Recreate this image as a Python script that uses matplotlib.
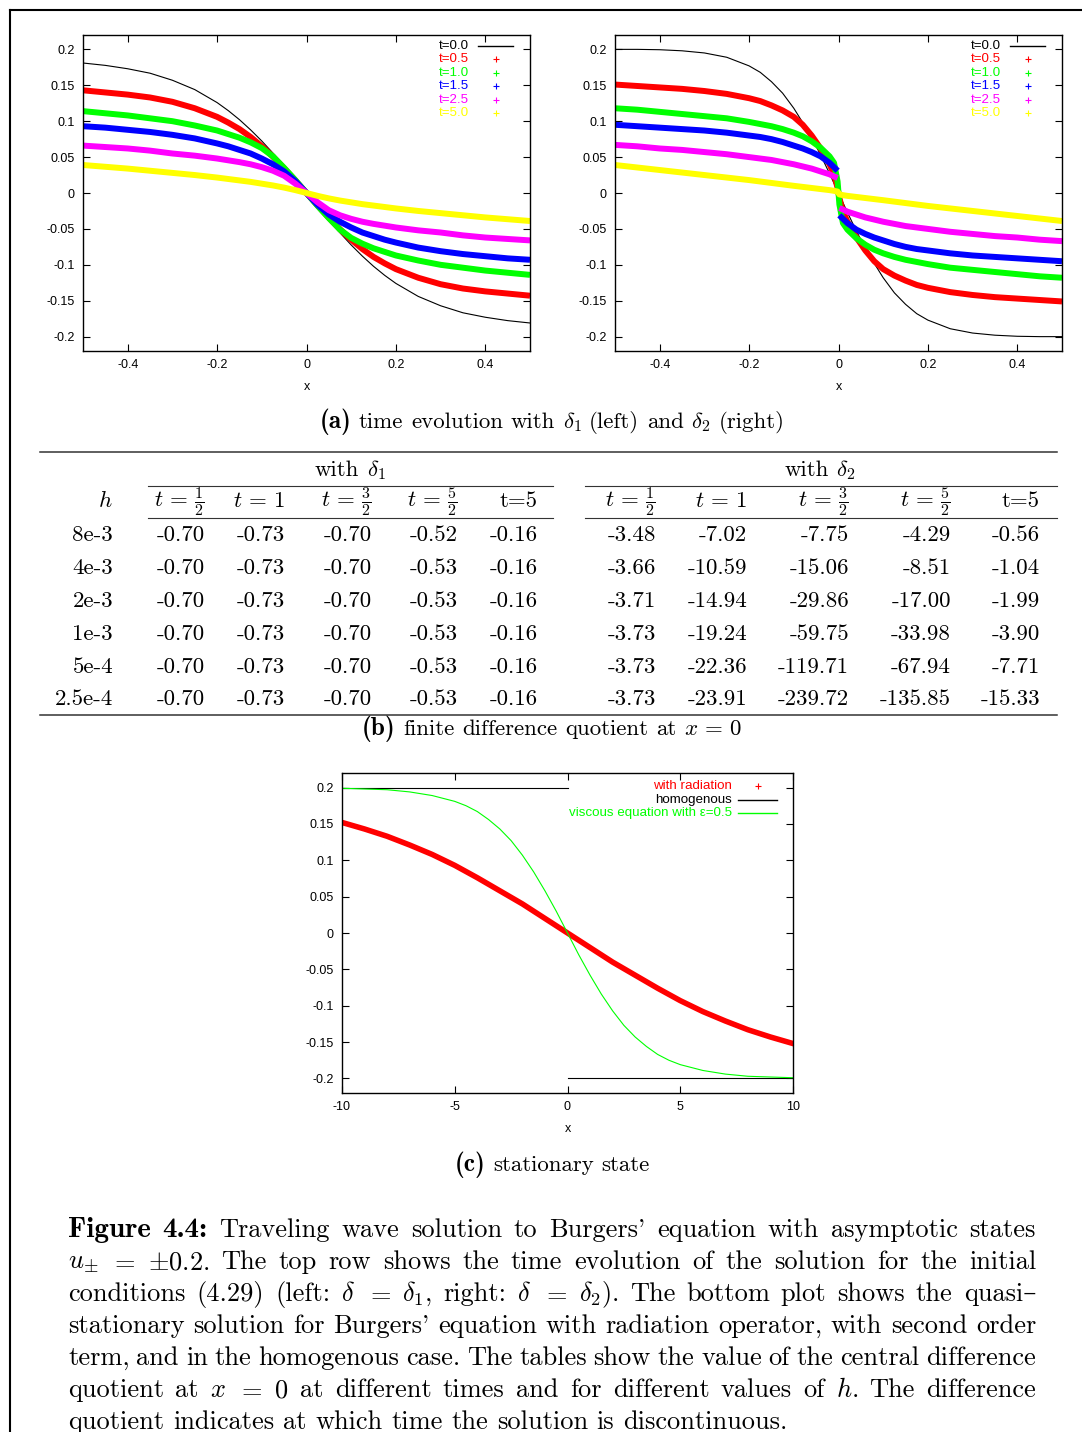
import numpy as np
import matplotlib
matplotlib.use("Agg")
import matplotlib.pyplot as plt
from matplotlib.lines import Line2D

W, H, DPI = 1082, 1432, 100

plt.rcParams['mathtext.fontset'] = 'cm'
plt.rcParams['axes.unicode_minus'] = False

SANS = 'Liberation Sans'
ROMAN = ['cmr10', 'DejaVu Serif']
BOLD = ['cmb10', 'DejaVu Serif']

# --- time evolution, initial condition delta_1 ---
x1 = [-0.5, -0.45, -0.4, -0.35, -0.3, -0.25, -0.2, -0.175, -0.15, -0.125, -0.1, -0.075, -0.05, -0.025, 0.0,
      0.025, 0.05, 0.075, 0.1, 0.125, 0.15, 0.175, 0.2, 0.25, 0.3, 0.35, 0.4, 0.45, 0.5]
u1_t00 = [0.181, 0.1777, 0.173, 0.1668, 0.157, 0.144, 0.1259, 0.1147, 0.1021, 0.0879, 0.0724, 0.0555, 0.0377, 0.019, 0.0,
          -0.019, -0.0377, -0.0555, -0.0724, -0.0879, -0.1021, -0.1147, -0.1259, -0.144, -0.157, -0.1668, -0.173, -0.1777, -0.181]
u1_t05 = [0.143, 0.140, 0.137, 0.133, 0.127, 0.118, 0.106, 0.098, 0.089, 0.078, 0.065, 0.0505, 0.0345, 0.0175, 0.0,
          -0.0175, -0.0345, -0.0505, -0.065, -0.078, -0.089, -0.098, -0.106, -0.118, -0.127, -0.133, -0.137, -0.140, -0.143]
u1_t10 = [0.114, 0.111, 0.108, 0.104, 0.100, 0.094, 0.087, 0.082, 0.077, 0.0705, 0.0625, 0.051, 0.035, 0.018, 0.0,
          -0.018, -0.035, -0.051, -0.0625, -0.0705, -0.077, -0.082, -0.087, -0.094, -0.100, -0.104, -0.108, -0.111, -0.114]
u1_t15 = [0.093, 0.091, 0.088, 0.085, 0.081, 0.076, 0.069, 0.065, 0.060, 0.055, 0.048, 0.040, 0.030, 0.0165, 0.0,
          -0.0165, -0.030, -0.040, -0.048, -0.055, -0.060, -0.065, -0.069, -0.076, -0.081, -0.085, -0.088, -0.091, -0.093]
u1_t25 = [0.066, 0.064, 0.062, 0.059, 0.055, 0.052, 0.048, 0.0455, 0.043, 0.040, 0.036, 0.031, 0.024, 0.013, 0.0,
          -0.013, -0.024, -0.031, -0.036, -0.040, -0.043, -0.0455, -0.048, -0.052, -0.055, -0.059, -0.062, -0.064, -0.066]
u1_t50 = [0.039, 0.0365, 0.034, 0.031, 0.028, 0.025, 0.0215, 0.0195, 0.0175, 0.0155, 0.013, 0.0105, 0.0075, 0.004, 0.0,
          -0.004, -0.0075, -0.0105, -0.013, -0.0155, -0.0175, -0.0195, -0.0215, -0.025, -0.028, -0.031, -0.034, -0.0365, -0.039]

# --- time evolution, initial condition delta_2 ---
x2 = [-0.5, -0.45, -0.4, -0.35, -0.3, -0.25, -0.2, -0.175, -0.15, -0.125, -0.1, -0.08, -0.06, -0.04, -0.02, -0.01, -0.002, 0.0,
      0.002, 0.01, 0.02, 0.04, 0.06, 0.08, 0.1, 0.125, 0.15, 0.175, 0.2, 0.25, 0.3, 0.35, 0.4, 0.45, 0.5]
u2_t00 = [0.200, 0.200, 0.1995, 0.198, 0.195, 0.189, 0.177, 0.168, 0.155, 0.139, 0.118, 0.098, 0.077, 0.053, 0.027, 0.0135, 0.003, 0.0,
          -0.003, -0.0135, -0.027, -0.053, -0.077, -0.098, -0.118, -0.139, -0.155, -0.168, -0.177, -0.189, -0.195, -0.198, -0.1995, -0.200, -0.200]
u2_t05 = [0.151, 0.149, 0.147, 0.145, 0.142, 0.138, 0.132, 0.128, 0.122, 0.115, 0.106, 0.095, 0.080, 0.062, 0.040, 0.026, 0.007, 0.0,
          -0.007, -0.026, -0.040, -0.062, -0.080, -0.095, -0.106, -0.115, -0.122, -0.128, -0.132, -0.138, -0.142, -0.145, -0.147, -0.149, -0.151]
u2_t10 = [0.118, 0.116, 0.113, 0.110, 0.107, 0.104, 0.099, 0.096, 0.093, 0.089, 0.084, 0.079, 0.072, 0.063, 0.051, 0.042, 0.016, 0.0,
          -0.016, -0.042, -0.051, -0.063, -0.072, -0.079, -0.084, -0.089, -0.093, -0.096, -0.099, -0.104, -0.107, -0.110, -0.113, -0.116, -0.118]
u2_t15 = [0.095, 0.093, 0.091, 0.089, 0.087, 0.084, 0.080, 0.078, 0.075, 0.071, 0.066, 0.062, 0.057, 0.051, 0.042, 0.036, 0.031, np.nan,
          -0.031, -0.036, -0.042, -0.051, -0.057, -0.062, -0.066, -0.071, -0.075, -0.078, -0.080, -0.084, -0.087, -0.089, -0.091, -0.093, -0.095]
u2_t25 = [0.067, 0.065, 0.062, 0.060, 0.057, 0.054, 0.050, 0.048, 0.046, 0.043, 0.040, 0.037, 0.034, 0.030, 0.026, 0.023, 0.021, np.nan,
          -0.021, -0.023, -0.026, -0.030, -0.034, -0.037, -0.040, -0.043, -0.046, -0.048, -0.050, -0.054, -0.057, -0.060, -0.062, -0.065, -0.067]
u2_t50 = [0.039, 0.0355, 0.032, 0.0285, 0.025, 0.0215, 0.018, 0.016, 0.014, 0.012, 0.010, 0.0085, 0.007, 0.0055, 0.004, 0.003, 0.002, 0.0,
          -0.002, -0.003, -0.004, -0.0055, -0.007, -0.0085, -0.010, -0.012, -0.014, -0.016, -0.018, -0.0215, -0.025, -0.0285, -0.032, -0.0355, -0.039]

t_labels = ['t=0.0', 't=0.5', 't=1.0', 't=1.5', 't=2.5', 't=5.0']
t_colors = ['black', '#ff0000', '#00ff00', '#0000ff', '#ff00ff', '#ffff00']

# --- stationary state ---
xs = [-10, -9, -8, -7, -6, -5, -4, -3, -2, -1, 0, 1, 2, 3, 4, 5, 6, 7, 8, 9, 10]
u_rad = [0.152, 0.143, 0.133, 0.121, 0.108, 0.093, 0.076, 0.058, 0.040, 0.020, 0.0,
         -0.020, -0.040, -0.058, -0.076, -0.093, -0.108, -0.121, -0.133, -0.143, -0.152]
xv = [-10, -9, -8, -7, -6, -5, -4.5, -4, -3.5, -3, -2.5, -2, -1.5, -1, -0.5, 0,
      0.5, 1, 1.5, 2, 2.5, 3, 3.5, 4, 4.5, 5, 6, 7, 8, 9, 10]
u_visc = [0.199, 0.198, 0.197, 0.194, 0.189, 0.181, 0.175, 0.167, 0.156, 0.143, 0.127, 0.107, 0.084, 0.058, 0.030, 0.0,
          -0.030, -0.058, -0.084, -0.107, -0.127, -0.143, -0.156, -0.167, -0.175, -0.181, -0.189, -0.194, -0.197, -0.198, -0.199]
x_hom_l, u_hom_l = [-10, 0], [0.2, 0.2]
x_hom_r, u_hom_r = [0, 10], [-0.2, -0.2]

# --- difference quotient table ---
h_vals = ['8e-3', '4e-3', '2e-3', '1e-3', '5e-4', '2.5e-4']
t_heads = [r'$t\,=\,\frac{1}{2}$', r'$t\,=\,1$', r'$t\,=\,\frac{3}{2}$', r'$t\,=\,\frac{5}{2}$', 't=5']
dq_delta1 = [[-0.70, -0.73, -0.70, -0.52, -0.16],
             [-0.70, -0.73, -0.70, -0.53, -0.16],
             [-0.70, -0.73, -0.70, -0.53, -0.16],
             [-0.70, -0.73, -0.70, -0.53, -0.16],
             [-0.70, -0.73, -0.70, -0.53, -0.16],
             [-0.70, -0.73, -0.70, -0.53, -0.16]]
dq_delta2 = [[-3.48, -7.02, -7.75, -4.29, -0.56],
             [-3.66, -10.59, -15.06, -8.51, -1.04],
             [-3.71, -14.94, -29.86, -17.00, -1.99],
             [-3.73, -19.24, -59.75, -33.98, -3.90],
             [-3.73, -22.36, -119.71, -67.94, -7.71],
             [-3.73, -23.91, -239.72, -135.85, -15.33]]

y_ticks = [-0.2, -0.15, -0.1, -0.05, 0, 0.05, 0.1, 0.15, 0.2]
y_ticklabels = ['-0.2', '-0.15', '-0.1', '-0.05', '0', '0.05', '0.1', '0.15', '0.2']

fig = plt.figure(figsize=(W / DPI, H / DPI), dpi=DPI)
renderer = fig.canvas.get_renderer()


def fy(py):
    return 1 - py / H


def add_ax(l, t, r, b):
    return fig.add_axes([l / W, 1 - b / H, (r - l) / W, (b - t) / H])


def gnuplot_style(ax, xlim, xticks, xlabels):
    ax.set_xlim(xlim)
    ax.set_ylim(-0.22, 0.22)
    ax.set_xticks(xticks, xlabels)
    ax.set_yticks(y_ticks, y_ticklabels)
    ax.tick_params(direction='in', top=True, right=True, length=5, width=0.8,
                   labelsize=9, pad=6)
    for lab in ax.get_xticklabels() + ax.get_yticklabels():
        lab.set_family(SANS)
    ax.set_xlabel('x', fontsize=9, family=SANS, labelpad=7)
    for s in ax.spines.values():
        s.set_linewidth(1.0)


def key(rows, x_text, x0, x1, y0, dy):
    # gnuplot style key: right aligned coloured text, sample to the right
    for i, (label, color, kind) in enumerate(rows):
        yy = fy(y0 + i * dy)
        fig.text(x_text / W, yy, label, color=color, ha='right', va='center',
                 fontsize=9.6, family=SANS)
        if kind == 'line':
            fig.add_artist(Line2D([x0 / W, x1 / W], [yy, yy], color=color, lw=1.0))
        else:
            fig.add_artist(Line2D([(x0 + x1) / 2 / W], [yy], color=color, marker='+',
                                  ms=4, mew=0.8, ls='none'))


t_key = [(l, c, 'line' if i == 0 else 'plus') for i, (l, c) in enumerate(zip(t_labels, t_colors))]

# top left
ax1 = add_ax(83, 35, 530, 351)
ax1.plot(x1, u1_t00, color='black', lw=0.8)
for u, c in zip([u1_t05, u1_t10, u1_t15, u1_t25, u1_t50], t_colors[1:]):
    ax1.plot(x1, u, color=c, lw=4.3, solid_capstyle='butt', solid_joinstyle='round')
gnuplot_style(ax1, (-0.5, 0.5), [-0.4, -0.2, 0, 0.2, 0.4], ['-0.4', '-0.2', '0', '0.2', '0.4'])
key(t_key, 469, 478, 513, 46, 13.4)

# top right
ax2 = add_ax(615, 35, 1062, 351)
ax2.plot(x2, u2_t00, color='black', lw=0.8)
for u, c in zip([u2_t05, u2_t10, u2_t15, u2_t25, u2_t50], t_colors[1:]):
    ax2.plot(x2, u, color=c, lw=4.3, solid_capstyle='butt', solid_joinstyle='round')
gnuplot_style(ax2, (-0.5, 0.5), [-0.4, -0.2, 0, 0.2, 0.4], ['-0.4', '-0.2', '0', '0.2', '0.4'])
key(t_key, 1001, 1010, 1045, 46, 13.4)

# bottom: stationary state
ax3 = add_ax(342, 773, 793, 1093)
ax3.plot(xs, u_rad, color='#ff0000', lw=4.0, solid_joinstyle='round')
ax3.plot(x_hom_l, u_hom_l, color='black', lw=0.8)
ax3.plot(x_hom_r, u_hom_r, color='black', lw=0.8)
ax3.plot(xv, u_visc, color='#00ff00', lw=0.8)
gnuplot_style(ax3, (-10, 10), [-10, -5, 0, 5, 10], ['-10', '-5', '0', '5', '10'])
key([('with radiation', '#ff0000', 'plus'),
     ('homogenous', 'black', 'line'),
     ('viscous equation with \u03b5=0.5', '#00ff00', 'line')],
    732, 738, 777, 786, 13.5)


# ---- text helpers (serif, LaTeX look) ----
def run(words, y, size, x0=None, x1=None, center=None, right=None, justify=False):
    # bold words are set a little larger to mimic the extended bold face
    arts = [fig.text(0, fy(y), w, family=f, fontsize=size * (1.1 if f is BOLD else 1.0),
                     va='baseline', ha='left')
            for w, f in words]
    widths = [a.get_window_extent(renderer).width for a in arts]
    space = size * DPI / 72 * 0.333
    if justify and len(arts) > 1:
        gap = (x1 - x0 - sum(widths)) / (len(arts) - 1)
    else:
        gap = space
    total = sum(widths) + gap * (len(arts) - 1)
    if center is not None:
        x = center - total / 2
    elif right is not None:
        x = right - total
    else:
        x = x0
    for a, w in zip(arts, widths):
        a.set_x(x / W)
        x += w + gap
    return arts


def words_of(s, fam=ROMAN):
    return [(w, fam) for w in s.split(' ')]


SUB = 16.5
run([('(a)', BOLD)] + words_of(r'time evolution with $\delta_1$ (left) and $\delta_2$ (right)'),
    428, SUB, center=552)
run([('(b)', BOLD)] + words_of(r'finite difference quotient at $x\,=\,0$'), 735, SUB, center=552)
run([('(c)', BOLD)] + words_of('stationary state'), 1171, SUB, center=552)

# table
TAB = 16.5
fig.add_artist(Line2D([40 / W, 1057 / W], [fy(452)] * 2, color='#333333', lw=1.1))
fig.add_artist(Line2D([40 / W, 1057 / W], [fy(715)] * 2, color='#333333', lw=1.1))
for yy in (486, 518):
    fig.add_artist(Line2D([148 / W, 553 / W], [fy(yy)] * 2, color='#333333', lw=0.8))
    fig.add_artist(Line2D([585 / W, 1057 / W], [fy(yy)] * 2, color='#333333', lw=0.8))
run([('with', ROMAN), (r'$\delta_1$', ROMAN)], 476, TAB, center=350)
run([('with', ROMAN), (r'$\delta_2$', ROMAN)], 476, TAB, center=820)
run([('$h$', ROMAN)], 507, TAB, right=113)
cols1 = [205, 285, 372, 458, 538]
cols2 = [656, 747, 849, 951, 1040]
for head, c1, c2 in zip(t_heads, cols1, cols2):
    run([(head, ROMAN)], 507, TAB, right=c1)
    run([(head, ROMAN)], 507, TAB, right=c2)
row_y = [541, 574, 607, 640, 673, 705]
for h, r1, r2, yy in zip(h_vals, dq_delta1, dq_delta2, row_y):
    run([(h, ROMAN)], yy, TAB, right=113)
    for v, c in zip(r1, cols1):
        run([('%.2f' % v, ROMAN)], yy, TAB, right=c)
    for v, c in zip(r2, cols2):
        run([('%.2f' % v, ROMAN)], yy, TAB, right=c)

# caption
CAP = 19
cap_lines = [
    [('Figure', BOLD), ('4.4:', BOLD)] + words_of("Traveling wave solution to Burgers' equation with asymptotic states"),
    words_of("$u_{\\pm}$ $=$ $\\pm0.2$. The top row shows the time evolution of the solution for the initial"),
    words_of("conditions (4.29) (left: $\\delta$ $=$ $\\delta_1$, right: $\\delta$ $=$ $\\delta_2$). The bottom plot shows the quasi\u2013"),
    words_of("stationary solution for Burgers' equation with radiation operator, with second order"),
    words_of("term, and in the homogenous case. The tables show the value of the central difference"),
    words_of("quotient at $x$ $=$ $0$ at different times and for different values of $h$. The difference"),
    words_of("quotient indicates at which time the solution is discontinuous."),
]
for i, words in enumerate(cap_lines):
    last = i == len(cap_lines) - 1
    run(words, 1237 + 32 * i, CAP, x0=68, x1=1036, justify=not last)

# page frame
fig.add_artist(Line2D([10 / W, 10 / W], [0, fy(10)], color='black', lw=1.5))
fig.add_artist(Line2D([10 / W, 1], [fy(10), fy(10)], color='black', lw=1.5))

fig.savefig('out.png', dpi=DPI)
